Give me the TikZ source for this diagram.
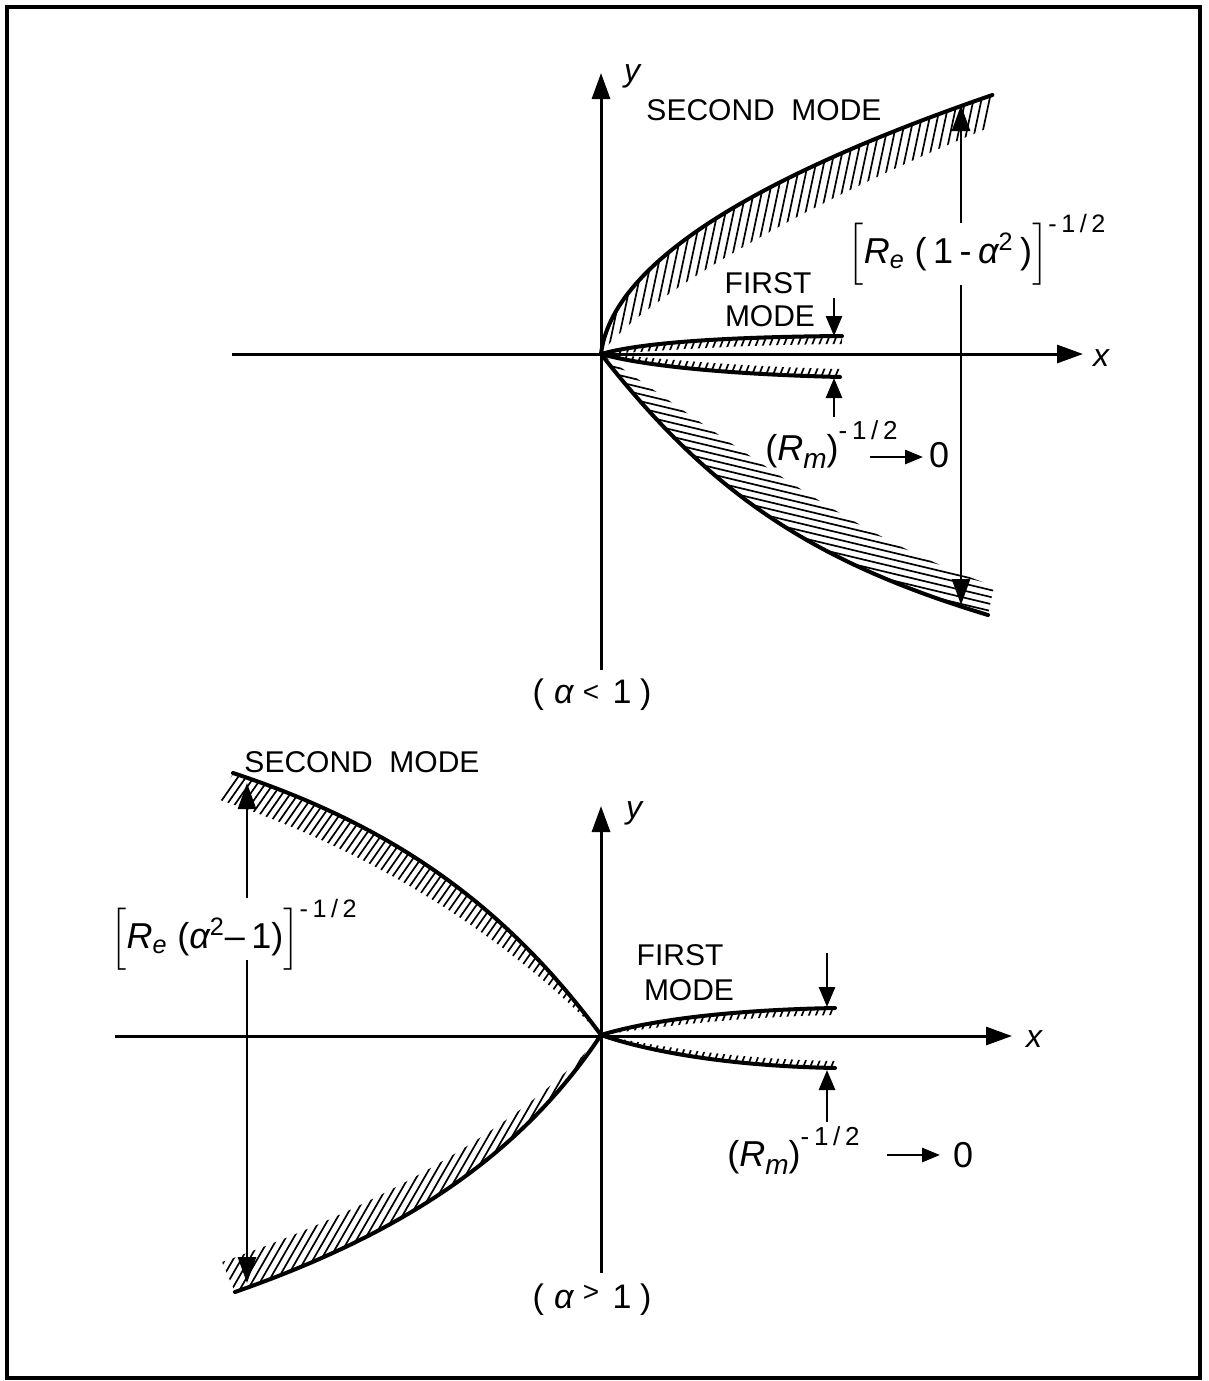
\documentclass[tikz,border=0pt]{standalone}
\usepackage{amsmath}
\usepackage{fontspec}
\setmainfont{Liberation Sans}
\usetikzlibrary{arrows.meta}
\newcommand{\lsp}{\hspace{0.18em}}
\newcommand{\rmlab}{(\textit{R}\raisebox{-0.45ex}{\fontsize{14}{14}\selectfont\itshape m})\raisebox{1.1ex}{\fontsize{13}{13}\selectfont -\lsp1\lsp/\lsp2}}
\begin{document}
\begin{tikzpicture}[x=0.5pt,y=-0.5pt,
  lbl/.style={font=\fontsize{15}{18}\selectfont, inner sep=0pt},
  mlbl/.style={font=\fontsize{18}{20}\selectfont, inner sep=0pt},
  albl/.style={font=\fontsize{17}{20}\selectfont, inner sep=0pt},
  ilbl/.style={font=\fontsize{16}{18}\selectfont\itshape, inner sep=0pt},
  curve/.style={line width=2pt, line join=round, line cap=round},
  hatch/.style={line width=0.85pt},
  axis/.style={line width=1.5pt, -{Triangle[length=13pt,width=9pt]}},
  dim/.style={line width=1.4pt, -{Triangle[length=13pt,width=9pt]}},
  small/.style={line width=1.4pt, -{Triangle[length=10pt,width=8pt]}},
  tiny/.style={line width=1.4pt, -{Triangle[length=9pt,width=7pt]}},
]
\useasboundingbox (0,0) rectangle (1209,1381);
\draw[line width=2pt] (7,7) rectangle (1200,1378);

% ================= TOP PANEL =================
\coordinate (O1) at (601,354);
% second mode upper band
\begin{scope}
\clip plot[domain=0:259, samples=50, variable=\s] ({601+0.12*\s+0.005366*\s*\s},{354-\s})
  -- (988,128) .. controls (800,205) and (640,300) .. (601,354) -- cycle;
\foreach \i in {0,...,60} \draw[hatch] ({530+8*\i},380) -- ++(70,-330);
\end{scope}
% second mode lower band
\begin{scope}
\clip (601,354) .. controls (712,496) and (816,563) .. (988,615)
  -- (994,586) .. controls (860,540) and (750,455) .. (601,354) -- cycle;
\foreach \i in {0,...,70} \draw[hatch] (560,{200+7*\i}) -- ++(460,110);
\end{scope}
% first mode bands
\begin{scope}
\clip (601,354) .. controls (640,343) and (720,337) .. (842,336)
  -- (842,344) .. controls (720,345) and (650,352) .. (601,354) -- cycle;
\foreach \i in {0,...,45} \draw[hatch] ({560+7*\i},380) -- ++(20,-50);
\end{scope}
\begin{scope}
\clip (601,354) .. controls (640,365) and (720,374) .. (840,377)
  -- (840,369) .. controls (720,366) and (650,357) .. (601,354) -- cycle;
\foreach \i in {0,...,45} \draw[hatch] ({560+7*\i},400) -- ++(20,-50);
\end{scope}
% curves
\draw[curve] plot[domain=0:259, samples=60, variable=\s] ({601+0.12*\s+0.005366*\s*\s},{354-\s});
\draw[curve] (601,354) .. controls (712,496) and (816,563) .. (988,615);
\draw[curve] (601,354) .. controls (640,343) and (720,337) .. (842,336);
\draw[curve] (601,354) .. controls (640,365) and (720,374) .. (840,377);
% axes
\coordinate (Y1a) at (601,670); \coordinate (Y1b) at (601,73);
\coordinate (X1a) at (232,354); \coordinate (X1b) at (1083,354);
\draw[axis] (Y1a) -- (Y1b);
\draw[axis] (X1a) -- (X1b);
\node[ilbl] (ylab1) at (632,76) {y};
\node[ilbl] (xlab1) at (1101,358) {x};
% dimension line
\coordinate (D1a) at (961,223); \coordinate (D1b) at (961,105);
\coordinate (D1c) at (961,285); \coordinate (D1d) at (961,605);
\draw[dim] (D1a) -- (D1b);
\draw[dim] (D1c) -- (D1d);
\node[mlbl] (labA) at (977,250) {$\Bigl[\textit{R}_{\textit{e}}\;\text{(\lsp1\lsp-\lsp}\textit{α}^{\text{2}}\text{\lsp)}\Bigr]^{\text{-\lsp1\lsp/\lsp2}}$};
% first mode arrows
\coordinate (F1a) at (834,298); \coordinate (F1b) at (834,336);
\coordinate (F1c) at (834,417); \coordinate (F1d) at (834,378);
\draw[small] (F1a) -- (F1b);
\draw[small] (F1c) -- (F1d);
\node[lbl] (sec1) at (764,110) {SECOND\ \ MODE};
\node[lbl] (first1) at (768,283) {FIRST};
\node[lbl] (mode1) at (770,316) {MODE};
\node[mlbl, anchor=base west] (rm1) at (765,460) {\rmlab};
\coordinate (A1a) at (870,457); \coordinate (A1b) at (923,457);
\draw[tiny] (A1a) -- (A1b);
\node[mlbl] (zero1) at (939,455) {0};
\node[albl] (alt1) at (592,695) {(\hspace{0.3em}\textit{α}\hspace{0.25em}\raisebox{0.15ex}{\fontsize{14}{14}\selectfont <}\hspace{0.4em}1\hspace{0.25em})};

% ================= BOTTOM PANEL =================
\coordinate (O2) at (601,1035);
\begin{scope}
\clip (601,1035) .. controls (511.8,914.4) and (404,829.3) .. (233,773)
  -- (220,800) .. controls (400,860) and (530,960) .. (601,1035) -- cycle;
\foreach \i in {0,...,80} \draw[hatch] ({-160+8*\i},1300) -- ++(392,-560);
\end{scope}
\begin{scope}
\clip (601,1035) .. controls (517.8,1159.8) and (395.5,1235.9) .. (235,1292)
  -- (222,1262) .. controls (400,1200) and (540,1110) .. (601,1035) -- cycle;
\foreach \i in {0,...,60} \draw[hatch] ({140+8*\i},1310) -- ++(300,-520);
\end{scope}
\begin{scope}
\clip (601,1035) .. controls (650,1020) and (730,1010) .. (835,1008)
  -- (835,1015) .. controls (730,1017) and (650,1028) .. (601,1035) -- cycle;
\foreach \i in {0,...,45} \draw[hatch] ({560+7*\i},1060) -- ++(20,-50);
\end{scope}
\begin{scope}
\clip (601,1035) .. controls (650,1052) and (730,1066) .. (835,1068)
  -- (835,1061) .. controls (730,1059) and (650,1045) .. (601,1035) -- cycle;
\foreach \i in {0,...,45} \draw[hatch] ({560+7*\i},1080) -- ++(20,-50);
\end{scope}
\draw[curve] (601,1035) .. controls (511.8,914.4) and (404,829.3) .. (233,773);
\draw[curve] (601,1035) .. controls (517.8,1159.8) and (395.5,1235.9) .. (235,1292);
\draw[curve] (601,1035) .. controls (650,1020) and (730,1010) .. (835,1008);
\draw[curve] (601,1035) .. controls (650,1052) and (730,1066) .. (835,1068);
\coordinate (Y2a) at (601,1273); \coordinate (Y2b) at (601,806);
\coordinate (X2a) at (115,1036); \coordinate (X2b) at (1012,1036);
\draw[axis] (Y2a) -- (Y2b);
\draw[axis] (X2a) -- (X2b);
\node[ilbl] (ylab2) at (634,813) {y};
\node[ilbl] (xlab2) at (1034,1039) {x};
\coordinate (D2a) at (247,898); \coordinate (D2b) at (247,783);
\coordinate (D2c) at (247,960); \coordinate (D2d) at (247,1283);
\draw[dim] (D2a) -- (D2b);
\draw[dim] (D2c) -- (D2d);
\node[mlbl] (labB) at (234,935) {$\Bigl[\textit{R}_{\textit{e}}\;\text{(}\textit{α}^{\text{2}}\text{--\lsp1)}\Bigr]^{\text{-\lsp1\lsp/\lsp2}}$};
\coordinate (F2a) at (827,953); \coordinate (F2b) at (827,1007);
\coordinate (F2c) at (827,1122); \coordinate (F2d) at (827,1070);
\draw[small] (F2a) -- (F2b);
\draw[small] (F2c) -- (F2d);
\node[lbl] (sec2) at (362,762) {SECOND\ \ MODE};
\node[lbl] (first2) at (680,955) {FIRST};
\node[lbl] (mode2) at (689,990) {MODE};
\node[mlbl, anchor=base west] (rm2) at (727,1166) {\rmlab};
\coordinate (A2a) at (887,1155); \coordinate (A2b) at (940,1155);
\draw[tiny] (A2a) -- (A2b);
\node[mlbl] (zero2) at (963,1155) {0};
\node[albl] (agt1) at (592,1300) {(\hspace{0.3em}\textit{α}\hspace{0.25em}\raisebox{0.4ex}{\fontsize{14}{14}\selectfont >}\hspace{0.4em}1\hspace{0.25em})};
\end{tikzpicture}
\end{document}
